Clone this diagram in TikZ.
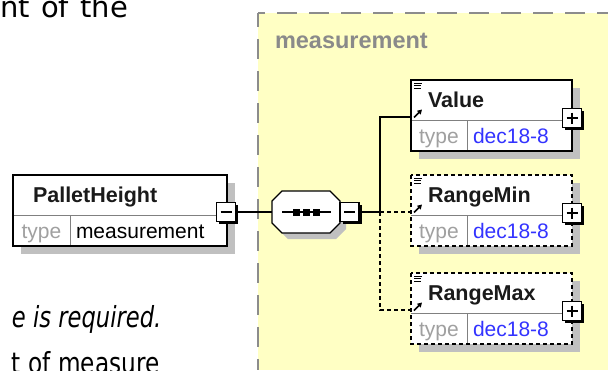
\documentclass[tikz,border=0pt]{standalone}
\usepackage{fontspec}
\usepackage{graphicx}
\setmainfont{Liberation Sans}
\newfontfamily\prosefont{DejaVu Sans}
\usetikzlibrary{arrows.meta, positioning, calc, shadows}
\definecolor{ctypeyellow}{HTML}{FFFFC4}
\definecolor{ctypeborder}{HTML}{8C8C8C}
\definecolor{ctypename}{HTML}{8A8A8A}
\definecolor{shadowgray}{HTML}{C0C0C0}
\definecolor{dividergray}{HTML}{808080}
\definecolor{typegray}{HTML}{A0A0A0}
\definecolor{typeblue}{HTML}{3333FF}
\definecolor{headtext}{HTML}{1A1A1A}

\begin{document}
\begin{tikzpicture}[x=1pt, y=-1pt, >=Latex,
    every node/.style={outer sep=0pt},
    elemhead/.style={fill=white, minimum height=40pt, inner xsep=17pt,
      inner ysep=0pt, align=left, text height=16pt, text depth=1pt,
      font=\fontsize{21.5}{24}\selectfont\bfseries, text=headtext,
      drop shadow={shadow xshift=8pt, shadow yshift=-8pt,
        fill=shadowgray, opacity=1}},
    typecell/.style={fill=white, minimum height=31pt, inner sep=0pt,
      text height=16pt, text depth=1pt, text=typegray,
      font=\fontsize{21}{24}\selectfont,
      drop shadow={shadow xshift=8pt, shadow yshift=-8pt,
        fill=shadowgray, opacity=1}},
    typevalue/.style={typecell, inner xsep=6pt, align=left},
    elemframe/.style={draw, line width=1.3pt},
    optframe/.style={elemframe, dash pattern=on 4pt off 3pt},
    divider/.style={draw=dividergray, line width=0.8pt},
    btn/.style={draw, fill=white, line width=1.3pt, minimum size=19pt,
      inner sep=0pt, drop shadow={shadow xshift=2.5pt,
        shadow yshift=-2.5pt, fill=black, opacity=1}},
    minusbtn/.style={btn, path picture={
        \draw[line width=1.5pt]
          ([xshift=4pt]path picture bounding box.west) --
          ([xshift=-4pt]path picture bounding box.east);}},
    plusbtn/.style={btn, path picture={
        \draw[line width=1.5pt]
          ([xshift=4pt]path picture bounding box.west) --
          ([xshift=-4pt]path picture bounding box.east);
        \draw[line width=1.5pt]
          ([yshift=-4pt]path picture bounding box.north) --
          ([yshift=4pt]path picture bounding box.south);}},
    seqbox/.style={minimum width=68pt, minimum height=42pt, inner sep=0pt},
    seqoutline/.style={draw, fill=white, line width=1.3pt,
      drop shadow={shadow xshift=6pt, shadow yshift=-6pt,
        fill=shadowgray, opacity=1}},
    conn/.style={line width=1.3pt},
    optconn/.style={conn, dash pattern=on 4pt off 3pt},
    prose/.style={inner sep=0pt, font=\prosefont\fontsize{29}{34}\selectfont}
  ]
  \useasboundingbox (0,0) rectangle (608,370);
  \clip (0,0) rectangle (608,370);

  % complex type area
  \fill[ctypeyellow] (258,13) rectangle (608,370);
  \draw[ctypeborder, line width=2.4pt, dash pattern=on 20pt off 12pt,
    dash phase=13pt] (258,13) -- (608,13);
  \draw[ctypeborder, line width=2.4pt, dash pattern=on 20pt off 12pt,
    dash phase=6pt] (258,13) -- (258,370);
  \node[anchor=base west, inner sep=0pt, text=ctypename,
    font=\fontsize{23.5}{26}\selectfont\bfseries] (ctname) at (275,48)
    {measurement};

  % surrounding text
  \node[prose, anchor=base west] (txtone) at (0,17)
    {\makebox[128pt][s]{nt of the}};
  \node[prose, anchor=base west, font=\prosefont\itshape\fontsize{29}{34}\selectfont]
    (txttwo) at (12,327) {\scalebox{0.78}[1]{e is required.}};
  \node[prose, anchor=base west] (txtthree) at (12,373)
    {\scalebox{0.8}[1]{t of measure}};

  % PalletHeight
  \node[elemhead, inner xsep=20pt, text width=174pt, anchor=north west]
    (ph) at (13,175) {PalletHeight};
  \node[typecell, minimum width=57pt, anchor=north west]
    (phtype) at (ph.south west) {type};
  \node[typevalue, text width=145pt, text=black, anchor=north west]
    (phval) at (phtype.north east) {measurement};

  % Value
  \node[elemhead, text width=127pt, anchor=north west]
    (val) at (411,80) {Value};
  \node[typecell, minimum width=56pt, anchor=north west]
    (valtype) at (val.south west) {type};
  \node[typevalue, text width=93pt, text=typeblue, anchor=north west]
    (valval) at (valtype.north east) {dec18-8};

  % RangeMin
  \node[elemhead, text width=127pt, anchor=north west]
    (rmin) at (411,175) {RangeMin};
  \node[typecell, minimum width=56pt, anchor=north west]
    (rmintype) at (rmin.south west) {type};
  \node[typevalue, text width=93pt, text=typeblue, anchor=north west]
    (rminval) at (rmintype.north east) {dec18-8};

  % RangeMax
  \node[elemhead, text width=127pt, anchor=north west]
    (rmax) at (411,273) {RangeMax};
  \node[typecell, minimum width=56pt, anchor=north west]
    (rmaxtype) at (rmax.south west) {type};
  \node[typevalue, text width=93pt, text=typeblue, anchor=north west]
    (rmaxval) at (rmaxtype.north east) {dec18-8};

  % dividers and frames
  \foreach \e in {ph,val,rmin,rmax} {
    \draw[divider] (\e.south west) -- (\e.south east);
    \draw[divider] (\e type.north east) -- (\e type.south east);
  }
  \draw[elemframe] (ph.north west) rectangle (phval.south east);
  \draw[elemframe] (val.north west) rectangle (valval.south east);
  \draw[optframe] (rmin.north west) rectangle (rminval.south east);
  \draw[optframe] (rmax.north west) rectangle (rmaxval.south east);

  % element icons
  \foreach \e in {val,rmin,rmax} {
    \draw[line width=0.9pt] ($(\e.north west)+(3,3)$) -- +(8,0)
      ($(\e.north west)+(3,5.5)$) -- +(7,0)
      ($(\e.north west)+(3,8)$) -- +(7,0);
    \draw[line width=1.6pt, -{Triangle[length=4.5pt, width=5pt]}]
      ($(\e.south west)+(3,-2.5)$) -- +(8,-8);
  }
  \coordinate (valin) at ($(val.south west)+(0,-3)$);
  \coordinate (rminin) at ($(rmin.south west)+(0,-3)$);
  \coordinate (rmaxin) at ($(rmax.south west)+(0,-3)$);

  % sequence compositor
  \node[minusbtn] (phminus) at ($(ph.south east)+(-1,-3)$) {};
  \node[seqbox, right=36.5pt of phminus] (seq) {};
  \draw[seqoutline] ($(seq.north west)+(10,0)$) -- ($(seq.north east)+(-10,0)$)
    -- ($(seq.north east)+(0,10)$) -- ($(seq.south east)+(0,-10)$)
    -- ($(seq.south east)+(-10,0)$) -- ($(seq.south west)+(10,0)$)
    -- ($(seq.south west)+(0,-10)$) -- ($(seq.north west)+(0,10)$) -- cycle;
  \node[minusbtn, right=0pt of seq] (seqminus) {};
  \draw[line width=1.3pt] ($(seq.west)+(10,0)$) -- ($(seq.east)+(-9,0)$);
  \foreach \dx in {-10,0,10}
    \fill ($(seq.center)+(\dx,0)$) +(-3.5,-3.5) rectangle +(3.5,3.5);
  \coordinate (jn) at ($(seqminus.east)+(21,0)$);

  % connectors
  \draw[conn] (phminus) -- (seq);
  \draw[conn] (seqminus) -- (jn);
  \draw[conn] (jn) |- (valin);
  \draw[optconn] (jn) -- (rminin);
  \draw[optconn] (jn) |- (rmaxin);

  % expand buttons
  \node[plusbtn] (valplus) at ($(val.south east)+(0,-2)$) {};
  \node[plusbtn] (rminplus) at ($(rmin.south east)+(0,-2)$) {};
  \node[plusbtn] (rmaxplus) at ($(rmax.south east)+(0,-2)$) {};
\end{tikzpicture}
\end{document}
